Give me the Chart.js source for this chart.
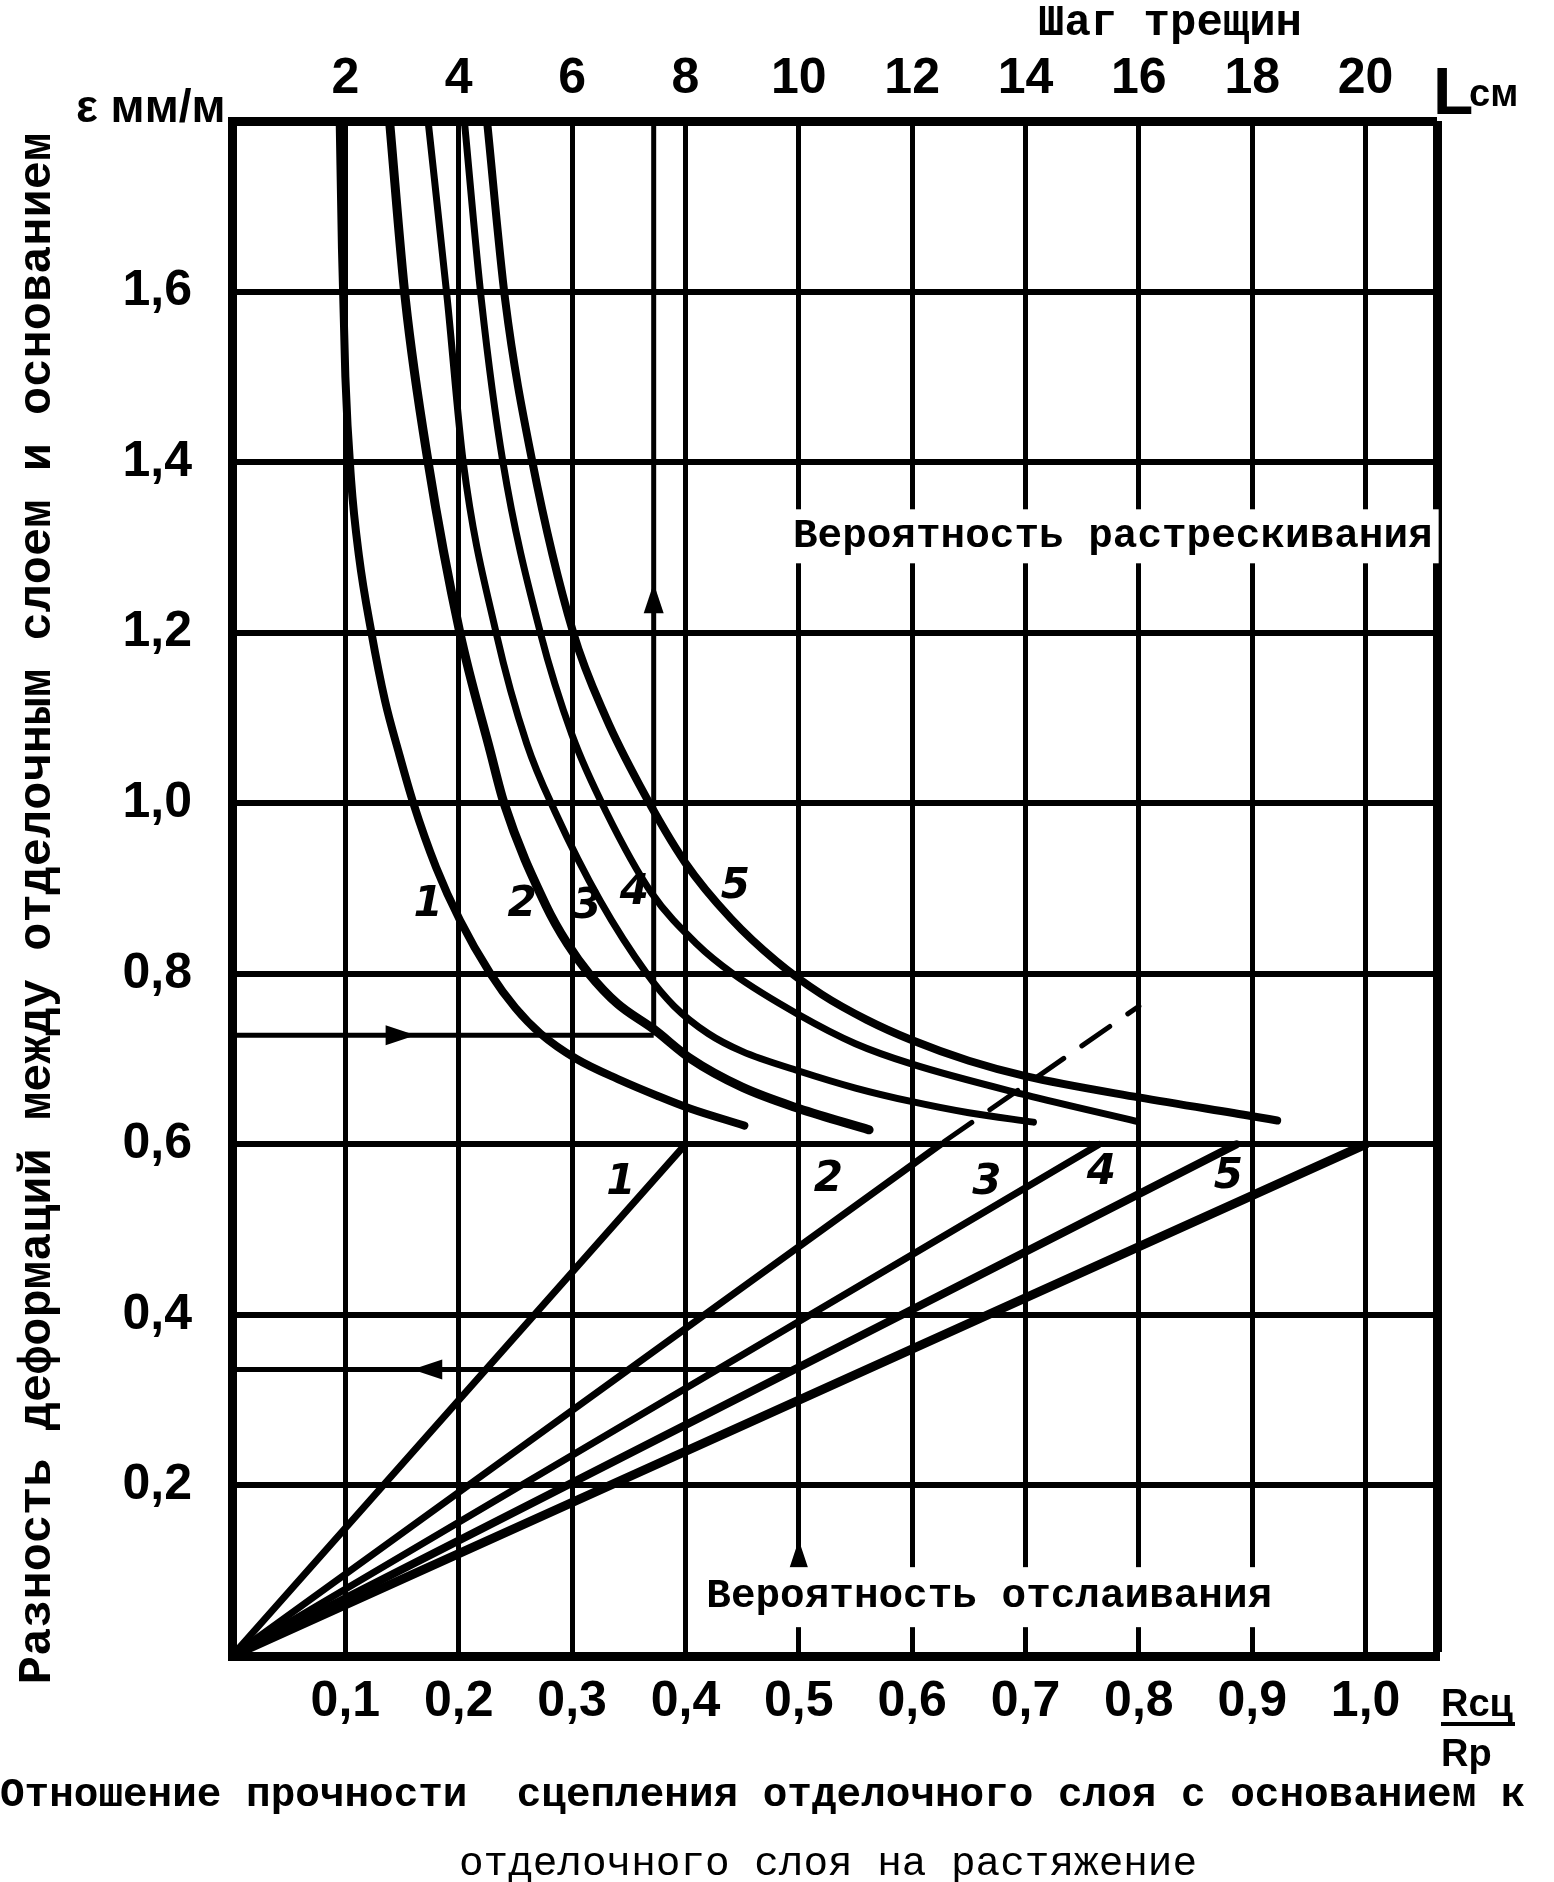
<!DOCTYPE html>
<html>
<head>
<meta charset="utf-8">
<script src="https://cdn.jsdelivr.net/npm/chart.js@4.4.1/dist/chart.umd.min.js"></script>
<style>
  html, body { margin: 0; padding: 0; background: #fff; }
  canvas { display: block; }
</style>
</head>
<body>
<canvas id="c" width="1554" height="1882"></canvas>
<script>
// ---------- DATA ----------
const X_MAX = 1.063;          // right edge of plot, Rсц/Rр
const Y_MAX = 1.8;            // top edge of plot, ε мм/м
const L_PER_X = 20;           // top scale: L (см) = 20 * Rсц/Rр

const xTickValues = [0.1, 0.2, 0.3, 0.4, 0.5, 0.6, 0.7, 0.8, 0.9, 1.0];
const xTickLabels = ['0,1', '0,2', '0,3', '0,4', '0,5', '0,6', '0,7', '0,8', '0,9', '1,0'];
const yTickValues = [0.2, 0.4, 0.6, 0.8, 1.0, 1.2, 1.4, 1.6];
const yTickLabels = ['0,2', '0,4', '0,6', '0,8', '1,0', '1,2', '1,4', '1,6'];
const topTickValues = [2, 4, 6, 8, 10, 12, 14, 16, 18, 20];
const topTickLabels = ['2', '4', '6', '8', '10', '12', '14', '16', '18', '20'];

// cracking curves 1..5  [Rсц/Rр, ε]
const curve1 = [[0.095,1.80],[0.097,1.65],[0.100,1.50],[0.105,1.38],[0.112,1.29],[0.123,1.20],[0.135,1.12],[0.147,1.06],[0.160,1.00],[0.180,0.925],[0.201,0.863],[0.228,0.80],[0.250,0.76],[0.272,0.73],[0.304,0.70],[0.343,0.675],[0.375,0.657],[0.404,0.642],[0.452,0.622]];
const curve2 = [[0.139,1.80],[0.153,1.59],[0.173,1.40],[0.201,1.20],[0.228,1.06],[0.240,1.00],[0.277,0.88],[0.296,0.835],[0.315,0.80],[0.340,0.765],[0.372,0.735],[0.405,0.70],[0.450,0.667],[0.500,0.642],[0.562,0.617]];
const curve3 = [[0.173,1.80],[0.190,1.59],[0.204,1.40],[0.233,1.20],[0.260,1.07],[0.285,0.99],[0.325,0.885],[0.366,0.80],[0.390,0.762],[0.420,0.730],[0.450,0.709],[0.500,0.686],[0.550,0.666],[0.600,0.650],[0.650,0.637],[0.707,0.626]];
const curve4 = [[0.205,1.80],[0.220,1.59],[0.239,1.40],[0.272,1.20],[0.300,1.08],[0.330,0.99],[0.370,0.895],[0.410,0.835],[0.442,0.80],[0.500,0.752],[0.550,0.718],[0.600,0.694],[0.700,0.658],[0.798,0.627]];
const curve5 = [[0.225,1.80],[0.241,1.59],[0.265,1.40],[0.301,1.20],[0.330,1.10],[0.360,1.02],[0.400,0.93],[0.440,0.865],[0.480,0.815],[0.520,0.776],[0.560,0.746],[0.600,0.722],[0.650,0.698],[0.700,0.680],[0.800,0.655],[0.900,0.633],[0.922,0.628]];
const curveWidths = [8, 9, 7, 7, 8];
const curveLabelPos = [[0.173,0.88],[0.256,0.88],[0.313,0.878],[0.355,0.895],[0.444,0.902]];

// peeling lines 1..5 from origin
const lineEndX = [0.40, 0.625, 0.765, 0.886, 1.00];
const lineEndY = [0.60, 0.60, 0.60, 0.60, 0.60];
const lineWidths = [7, 7, 7, 8, 9];
const lineLabelPos = [[0.343,0.555],[0.526,0.558],[0.666,0.555],[0.767,0.566],[0.879,0.562]];
const dashExt = [[0.628,0.603],[0.800,0.762]];

// reading (construction) lines
const guideUpperH = [[0,0.728],[0.372,0.728]];
const guideUpperV = [[0.372,0.728],[0.372,1.8]];
const guideLowerH = [[0,0.336],[0.5,0.336]];
// arrows: tip position + direction
const arrowTips = [[0.162,0.728,'right'],[0.159,0.336,'left'],[0.372,1.258,'up'],[0.5,0.136,'up']];

// ---------- BUILD ----------
const pts = a => a.map(p => ({x: p[0], y: p[1]}));
const datasets = [];
[curve1, curve2, curve3, curve4, curve5].forEach((c, i) => {
  datasets.push({data: pts(c), borderColor: '#000', borderWidth: curveWidths[i], showLine: true,
    pointRadius: 0, cubicInterpolationMode: 'monotone', borderCapStyle: 'round', fill: false});
});
lineEndX.forEach((x, i) => {
  datasets.push({data: [{x: 0, y: 0}, {x: x, y: lineEndY[i]}], borderColor: '#000', borderWidth: lineWidths[i],
    showLine: true, pointRadius: 0, borderCapStyle: 'round'});
});
datasets.push({data: pts(dashExt), borderColor: '#000', borderWidth: 5, showLine: true, pointRadius: 0,
  borderDash: [34, 22], borderCapStyle: 'round'});
[guideUpperH, guideUpperV, guideLowerH].forEach(g => {
  datasets.push({data: pts(g), borderColor: '#000', borderWidth: 5, showLine: true, pointRadius: 0});
});

const tickFont = {family: '"Liberation Sans", Arial, sans-serif', weight: 'bold', size: 50};
const MONO = '"Liberation Mono", "DejaVu Sans Mono", monospace';
const NARROW = '"Liberation Sans", Arial, sans-serif';

const decor = {
  id: 'decor',
  afterDatasetsDraw(chart) {
    const ctx = chart.ctx, xs = chart.scales.x, ys = chart.scales.y;
    const px = v => xs.getPixelForValue(v), py = v => ys.getPixelForValue(v);
    ctx.save();
    // arrows
    ctx.fillStyle = '#000';
    arrowTips.forEach(a => {
      const x = px(a[0]), y = py(a[1]), L = 30, W = 10;
      ctx.beginPath();
      ctx.moveTo(x, y);
      if (a[2] === 'right') { ctx.lineTo(x - L, y - W); ctx.lineTo(x - L, y + W); }
      if (a[2] === 'left')  { ctx.lineTo(x + L, y - W); ctx.lineTo(x + L, y + W); }
      if (a[2] === 'up')    { ctx.lineTo(x - W, y + L); ctx.lineTo(x + W, y + L); }
      ctx.closePath(); ctx.fill();
    });
    // in-plot texts with white masks
    const boxText = (txt, xv, yv, font, h) => {
      ctx.font = font;
      const w = ctx.measureText(txt).width;
      const x = px(xv), y = py(yv);
      ctx.fillStyle = '#fff';
      ctx.fillRect(x - w / 2 - 6, y - h / 2, w + 12, h);
      ctx.fillStyle = '#000';
      ctx.textAlign = 'center'; ctx.textBaseline = 'middle';
      ctx.fillText(txt, x, y);
    };
    boxText('Вероятность растрескивания', 0.777, 1.313, 'bold 41px ' + MONO, 54);
    boxText('Вероятность отслаивания', 0.668, 0.069, 'bold 41px ' + MONO, 60);
    // curve and line numbers
    ctx.font = 'italic bold 42px "DejaVu Sans", sans-serif';
    ctx.textAlign = 'center'; ctx.textBaseline = 'middle'; ctx.fillStyle = '#000';
    curveLabelPos.forEach((p, i) => ctx.fillText(String(i + 1), px(p[0]), py(p[1])));
    lineLabelPos.forEach((p, i) => ctx.fillText(String(i + 1), px(p[0]), py(p[1])));
    ctx.restore();
  },
  afterDraw(chart) {
    const ctx = chart.ctx, a = chart.chartArea;
    ctx.save();
    ctx.fillStyle = '#000';
    // y axis title
    ctx.save();
    ctx.translate(38, (a.top + a.bottom) / 2 + 20);
    ctx.rotate(-Math.PI / 2);
    ctx.font = 'bold 47px ' + MONO;
    ctx.textAlign = 'center'; ctx.textBaseline = 'middle';
    ctx.fillText('Разность деформаций между отделочным слоем и основанием', 0, 0);
    ctx.restore();
    // bottom title
    ctx.font = 'bold 41px ' + MONO;
    ctx.textAlign = 'left'; ctx.textBaseline = 'middle';
    ctx.fillText('Отношение прочности  сцепления отделочного слоя с основанием к', 0, 1796);
    ctx.font = '41px ' + MONO;
    ctx.textAlign = 'center';
    ctx.fillText('отделочного слоя на растяжение', 828, 1864);
    // top title
    ctx.font = 'bold 44px ' + MONO;
    ctx.fillText('Шаг трещин', 1170, 24);
    // unit labels
    ctx.textAlign = 'left'; ctx.textBaseline = 'alphabetic';
    ctx.font = 'bold 46px ' + NARROW;
    ctx.fillText('ε мм/м', 76, 122);
    ctx.font = 'bold 66px ' + NARROW;
    ctx.fillText('L', a.right - 4, 114);
    ctx.font = 'bold 38px ' + NARROW;
    ctx.fillText('см', a.right + 32, 106);
    ctx.fillText('Rсц', a.right + 4, 1716);
    ctx.fillRect(a.right + 4, 1722, 74, 4);
    ctx.fillText('Rр', a.right + 4, 1766);
    ctx.restore();
  }
};

const isEnd = (i, n) => i === 0 || i === n + 1;

new Chart(document.getElementById('c'), {
  type: 'scatter',
  data: {datasets},
  plugins: [decor],
  options: {
    responsive: false, animation: false, devicePixelRatio: 1,
    layout: {padding: {left: 0, right: 117, top: 0, bottom: 0}},
    plugins: {legend: {display: false}, tooltip: {enabled: false}},
    scales: {
      x: {
        type: 'linear', position: 'bottom', min: 0, max: X_MAX,
        afterBuildTicks: s => { s.ticks = [0, ...xTickValues, X_MAX].map(v => ({value: v})); },
        afterFit: s => { s.height = 226; },
        grid: {color: '#000', drawTicks: false,
          lineWidth: c => (c.index === xTickValues.length + 1 ? 9 : 5)},
        border: {color: '#000', width: 9},
        ticks: {color: '#000', font: tickFont, padding: 16, autoSkip: false, maxRotation: 0, minRotation: 0,
          callback: (v, i) => isEnd(i, xTickValues.length) ? '' : xTickLabels[i - 1]}
      },
      x2: {
        type: 'linear', position: 'top', min: 0, max: X_MAX * L_PER_X,
        afterBuildTicks: s => { s.ticks = topTickValues.map(v => ({value: v})); },
        afterFit: s => { s.height = 121; },
        grid: {display: false, drawTicks: false},
        border: {display: false},
        ticks: {color: '#000', font: tickFont, padding: 12, autoSkip: false, maxRotation: 0, minRotation: 0,
          callback: (v, i) => topTickLabels[i]}
      },
      y: {
        type: 'linear', position: 'left', min: 0, max: Y_MAX,
        afterBuildTicks: s => { s.ticks = [0, ...yTickValues, Y_MAX].map(v => ({value: v})); },
        afterFit: s => { s.width = 232; },
        grid: {color: '#000', drawTicks: false,
          lineWidth: c => (c.index === yTickValues.length + 1 ? 9 : 6)},
        border: {color: '#000', width: 9},
        ticks: {color: '#000', font: tickFont, padding: 40, autoSkip: false,
          callback: (v, i) => isEnd(i, yTickValues.length) ? '' : yTickLabels[i - 1]}
      }
    }
  }
});
</script>
</body>
</html>
